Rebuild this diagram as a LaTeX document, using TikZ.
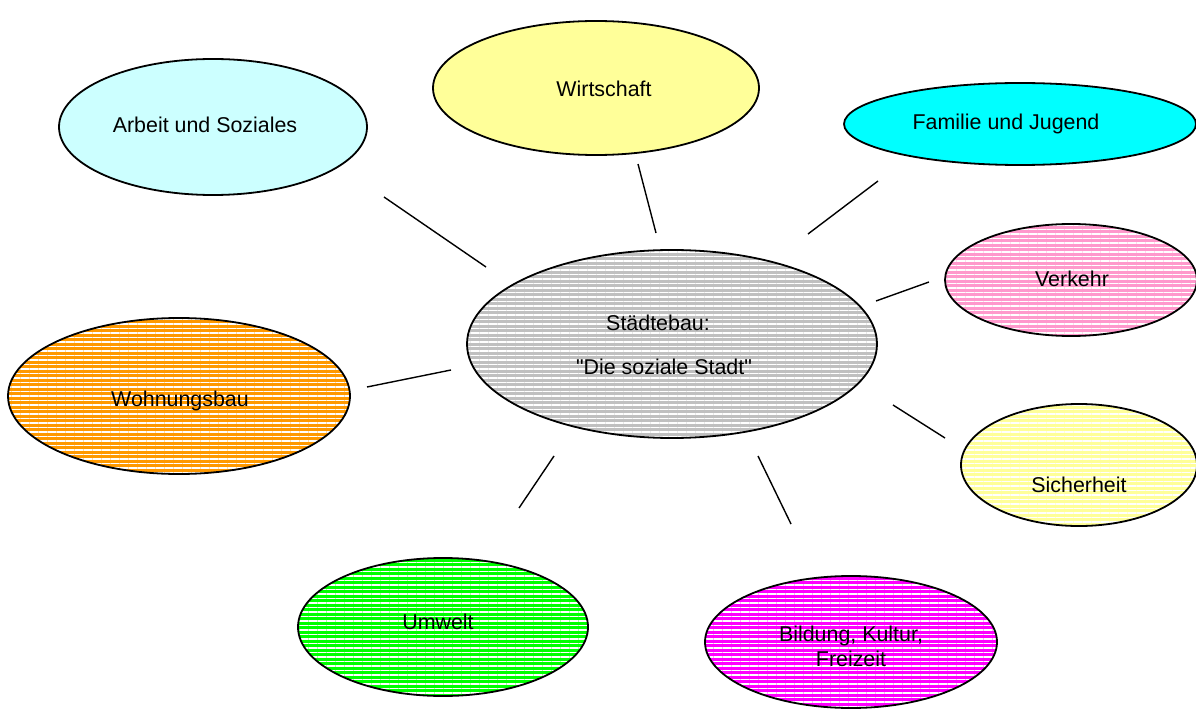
\documentclass[tikz,border=0pt]{standalone}
\usepackage{fontspec}
\setmainfont{Liberation Sans}[Ligatures=TeXOff]
\usetikzlibrary{shapes.geometric,patterns.meta}
\definecolor{lcyan}{HTML}{CCFFFF}
\definecolor{lyellow}{HTML}{FFFF99}
\definecolor{fcyan}{HTML}{00FFFF}
\definecolor{fpink}{HTML}{FF99CC}
\definecolor{fgray}{HTML}{C0C0C0}
\definecolor{forange}{HTML}{FF9900}
\definecolor{fgreen}{HTML}{00FF00}
\definecolor{fmagenta}{HTML}{FF00FF}
\tikzset{
  ell/.style n args={3}{ellipse, draw=black, line width=1.8pt, inner sep=0pt,
    minimum width=#1, minimum height=#2, fill=#3},
  hatch/.style n args={3}{ellipse, draw=black, line width=1.8pt, inner sep=0pt,
    minimum width=#1, minimum height=#2, preaction={fill=#3},
    pattern={Lines[distance=4.5pt,line width=1.1pt,angle=0]}, pattern color=white},
  lbl/.style={font=\fontsize{21.4}{25}\selectfont, text=black, inner sep=0pt},
  conn/.style={line width=1.4pt, black}
}
\begin{document}
\begin{tikzpicture}[x=1pt,y=-1pt]
\useasboundingbox (0,0) rectangle (1196,711);
% ellipses
\node[ell={308pt}{136pt}{lcyan}] (arbeit) at (213,127) {};
\node[ell={326pt}{134pt}{lyellow}] (wirt) at (596,88) {};
\node[ell={352pt}{82pt}{fcyan}] (fam) at (1020,124) {};
\node[hatch={252pt}{112pt}{fpink}] (verk) at (1071,280) {};
\node[hatch={410pt}{188pt}{fgray}] (stadt) at (672,344) {};
\node[hatch={342pt}{156pt}{forange}] (wohn) at (179,396) {};
\node[hatch={236pt}{122pt}{lyellow}] (sich) at (1079,465) {};
\node[hatch={290pt}{138pt}{fgreen}] (umw) at (443,627) {};
\node[hatch={292pt}{132pt}{fmagenta}] (bild) at (851,642) {};
% labels
\node[lbl] (tarbeit) at (205,125) {Arbeit und Soziales};
\node[lbl] (twirt) at (604,89) {Wirtschaft};
\node[lbl] (tfam) at (1006,124) {Familie und Jugend};
\node[lbl] (tverk) at (1072,279) {Verkehr};
\node[lbl] (tstadt1) at (658,323) {Städtebau:};
\node[lbl] (tstadt2) at (664,367) {"Die soziale Stadt"};
\node[lbl] (twohn) at (180,401) {Wohnungsbau};
\node[lbl] (tsich) at (1079,485) {Sicherheit};
\node[lbl] (tumw) at (438,622) {Umwelt};
\node[lbl, align=center, font=\fontsize{21.4}{25}\selectfont] (tbild) at (851,646) {Bildung, Kultur,\\Freizeit};
% connector ends
\coordinate (a1) at (384,197); \coordinate (a2) at (486,267);
\coordinate (b1) at (638,164); \coordinate (b2) at (656,233);
\coordinate (c1) at (878,181); \coordinate (c2) at (808,234);
\coordinate (d1) at (929,282); \coordinate (d2) at (876,301);
\coordinate (e1) at (451,370); \coordinate (e2) at (367,387);
\coordinate (f1) at (893,405); \coordinate (f2) at (945,438);
\coordinate (g1) at (554,456); \coordinate (g2) at (519,508);
\coordinate (h1) at (758,456); \coordinate (h2) at (791,524);
\draw[conn] (a1) -- (a2);
\draw[conn] (b1) -- (b2);
\draw[conn] (c1) -- (c2);
\draw[conn] (d1) -- (d2);
\draw[conn] (e1) -- (e2);
\draw[conn] (f1) -- (f2);
\draw[conn] (g1) -- (g2);
\draw[conn] (h1) -- (h2);
\end{tikzpicture}
\end{document}
